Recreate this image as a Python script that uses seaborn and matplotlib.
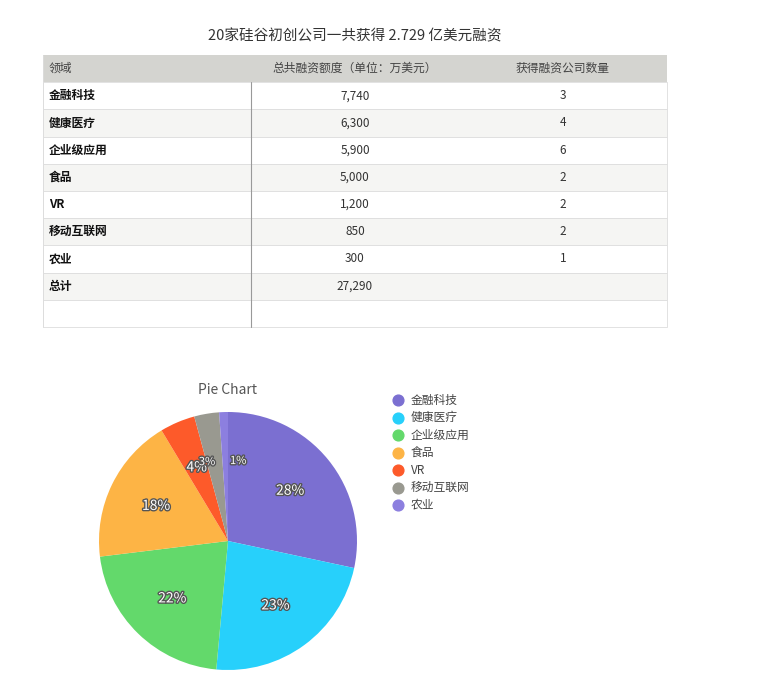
import matplotlib
matplotlib.use("Agg")
import matplotlib.pyplot as plt
import matplotlib.patheffects as pe
import seaborn as sns

plt.rcParams["font.family"] = ["Noto Sans CJK SC"]
sns.set_theme(style="white", rc={"font.family": "Noto Sans CJK SC"})

title = "20家硅谷初创公司一共获得 2.729 亿美元融资"
headers = ["领域", "总共融资额度（单位：万美元）", "获得融资公司数量"]
sectors = ["金融科技", "健康医疗", "企业级应用", "食品", "VR", "移动互联网", "农业"]
amounts = [7740, 6300, 5900, 5000, 1200, 850, 300]
counts = [3, 4, 6, 2, 2, 2, 1]
total_label = "总计"
colors = ["#7b6fd1", "#27d0fb", "#63d96b", "#fdb445", "#fd5a2a", "#999990", "#8c7fdf"]

W, H = 782, 686
fig = plt.figure(figsize=(W / 100, H / 100), dpi=100)
ax = fig.add_axes([0, 0, 1, 1])
ax.set_xlim(0, W); ax.set_ylim(H, 0); ax.axis("off")

ax.text(355, 36, title, ha="center", va="center", fontsize=10.5, color="#333333")
x0, x1, xdiv = 43, 667, 251
top, rh = 55, 27.2
rows = [(s, f"{a:,}", str(c)) for s, a, c in zip(sectors, amounts, counts)]
rows.append((total_label, f"{sum(amounts):,}", ""))
rows.append(("", "", ""))
ax.add_patch(plt.Rectangle((x0, top), x1 - x0, rh, color="#d4d4d0", lw=0))
ax.text(49, top + rh / 2, headers[0], va="center", fontsize=8.5, color="#444")
ax.text(355, top + rh / 2, headers[1], ha="center", va="center", fontsize=8.5, color="#444")
ax.text(563, top + rh / 2, headers[2], ha="center", va="center", fontsize=8.5, color="#444")
for i, (a, b, c) in enumerate(rows):
    y = top + rh * (i + 1)
    fc = "#f5f5f3" if i % 2 == 1 else "white"
    ax.add_patch(plt.Rectangle((x0, y), x1 - x0, rh, facecolor=fc, edgecolor="#dddddd", lw=0.6))
    ax.text(49, y + rh / 2, a, va="center", fontsize=8.5, fontweight="bold", color="#111")
    ax.text(355, y + rh / 2, b, ha="center", va="center", fontsize=8.5, color="#333")
    ax.text(563, y + rh / 2, c, ha="center", va="center", fontsize=8.5, color="#333")
ax.plot([xdiv, xdiv], [top + rh, top + rh * (len(rows) + 1)], color="#999", lw=0.8)
ax.plot([x0, x0], [top, top + rh * (len(rows) + 1)], color="#dddddd", lw=0.6)

ax.text(228, 390, "Pie Chart", ha="center", va="center", fontsize=10, color="#555")
lx, ly = 398, 400
for i, s in enumerate(sectors):
    ax.scatter([lx], [ly + i * 17.5], s=60, color=colors[i])
    ax.text(lx + 13, ly + i * 17.5, s, va="center", fontsize=8.5, color="#444")

cx, cy, r = 228, 541, 129
pax = fig.add_axes([(cx - r) / W, (H - cy - r) / H, 2 * r / W, 2 * r / H])
wedges, texts, autotexts = pax.pie(amounts, colors=colors, startangle=90, counterclock=False,
                                   autopct=lambda p: f"{p:.0f}%", pctdistance=0.62,
                                   wedgeprops=dict(linewidth=0))
for i, t in enumerate(autotexts):
    t.set_color("white"); t.set_fontsize(10)
    t.set_path_effects([pe.withStroke(linewidth=2, foreground="#555555")])
    if i >= 5:
        t.set_fontsize(8)
x5, y5 = autotexts[5].get_position()
autotexts[5].set_position((x5 - 0.06, y5))
x6, y6 = autotexts[6].get_position()
autotexts[6].set_position((x6 + 0.1, y6))
pax.set_xlim(-1, 1); pax.set_ylim(-1, 1)
pax.set_aspect("equal")
pax.axis("off")
fig.savefig("out.png", dpi=100)
